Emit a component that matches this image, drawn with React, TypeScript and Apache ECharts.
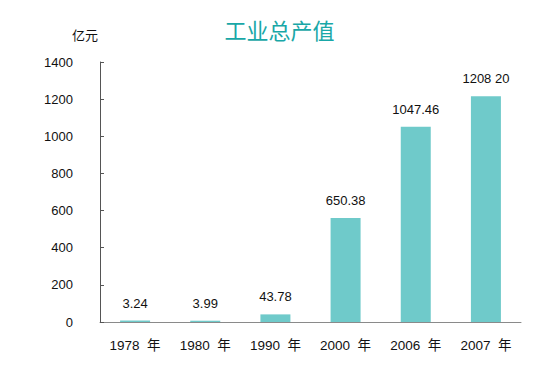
import React, { useEffect, useRef } from "react";
import * as echarts from "echarts";

const categories = ["1978 年", "1980 年", "1990 年", "2000 年", "2006 年", "2007 年"];
const barValues = [8, 7, 41, 560, 1052, 1216];
const valueLabels = ["3.24", "3.99", "43.78", "650.38", "1047.46", "1208 20"];
const titleText = "工业总产值";
const unitText = "亿元";

const FONT = '"Liberation Sans", Arial, "Noto Sans CJK SC", sans-serif';

export default function App() {
  const ref = useRef<HTMLDivElement>(null);
  useEffect(() => {
    document.body.style.margin = "0";
    const chart = echarts.init(ref.current!, null, { renderer: "svg" });
    chart.setOption({
      animation: false,
      backgroundColor: "#ffffff",
      title: {
        text: titleText,
        left: "center",
        top: 15,
        textStyle: { color: "#19a7a7", fontSize: 22, fontWeight: "normal", fontFamily: FONT },
      },
      grid: { left: 100, right: 38, top: 62, bottom: 44 },
      xAxis: {
        type: "category",
        data: categories,
        axisLine: { lineStyle: { color: "#8a8a8a", width: 1 } },
        axisTick: { inside: true, length: 4, lineStyle: { color: "#555" } },
        axisLabel: {
          color: "#111",
          fontSize: 13.5,
          margin: 17,
          fontFamily: FONT,
          formatter: (v: string) => v.replace(" ", "  "),
        },
      },
      yAxis: {
        type: "value",
        min: 0,
        max: 1400,
        interval: 200,
        name: unitText,
        nameLocation: "end",
        nameGap: 20,
        nameTextStyle: { color: "#111", fontSize: 13, align: "right", padding: [0, 2, 0, 0], fontFamily: FONT },
        axisLine: { show: true, lineStyle: { color: "#555", width: 1 } },
        axisTick: { show: true, inside: true, length: 4, lineStyle: { color: "#555" } },
        splitLine: { show: false },
        axisLabel: {
          color: "#111",
          fontSize: 13,
          margin: 27,
          fontFamily: FONT,
          formatter: (v: number) => String(v),
        },
      },
      series: [
        {
          type: "bar",
          data: barValues,
          barWidth: 30,
          itemStyle: { color: "#6fcaca" },
          label: {
            show: true,
            position: "top",
            distance: 11,
            color: "#111",
            fontSize: 13,
            fontFamily: FONT,
            formatter: (p: any) => valueLabels[p.dataIndex],
          },
        },
      ],
    });
    return () => chart.dispose();
  }, []);
  return <div ref={ref} style={{ width: 559, height: 366 }} />;
}
